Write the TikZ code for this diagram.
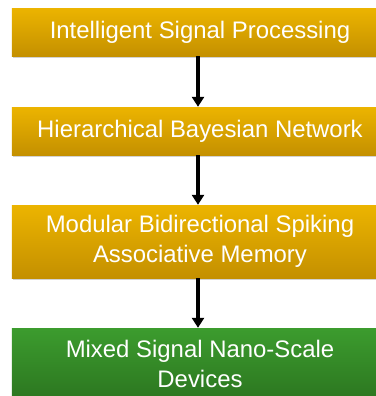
\documentclass[tikz,border=0pt]{standalone}
\usepackage{fontspec}
\setmainfont{Liberation Sans}
\usetikzlibrary{positioning,arrows.meta,shadows}
\definecolor{goldtop}{RGB}{236,180,0}
\definecolor{goldbot}{RGB}{196,144,0}
\definecolor{greentop}{RGB}{60,156,46}
\definecolor{greenbot}{RGB}{44,118,32}
\tikzset{
  layer/.style={rectangle,minimum width=376bp,inner sep=2pt,align=center,text=white,font=\fontsize{24}{30}\selectfont,
    drop shadow={shadow xshift=0.8bp,shadow yshift=-1.6bp,fill=black!35}},
  goldlayer/.style={layer,top color=goldtop,bottom color=goldbot},
  greenlayer/.style={layer,top color=greentop,bottom color=greenbot},
  down/.style={-{Triangle[length=10bp,width=12bp]},line width=3.2bp,black},
}
\begin{document}
\begin{tikzpicture}[x=1bp,y=1bp]
  \useasboundingbox (0,0) rectangle (376,-396);
  \clip (0,0) rectangle (376,-396);
  \node[goldlayer,minimum height=48bp] (isp) at (200,-32){Intelligent Signal Processing};
  \node[goldlayer,minimum height=48bp] (hbn) at (200,-131){Hierarchical Bayesian Network};
  \node[goldlayer,minimum height=73bp] (mbsam) at (200,-241.5){Modular Bidirectional Spiking\\Associative Memory};
  \node[greenlayer,minimum height=72bp] (mixed) at (200,-364){Mixed Signal Nano-Scale\\Devices};
  \draw[down]([xshift=-2bp]isp.south)--([xshift=-2bp]hbn.north);
  \draw[down]([xshift=-2bp]hbn.south)--([xshift=-2bp]mbsam.north);
  \draw[down]([xshift=-2bp]mbsam.south)--([xshift=-2bp]mixed.north);
\end{tikzpicture}
\end{document}
